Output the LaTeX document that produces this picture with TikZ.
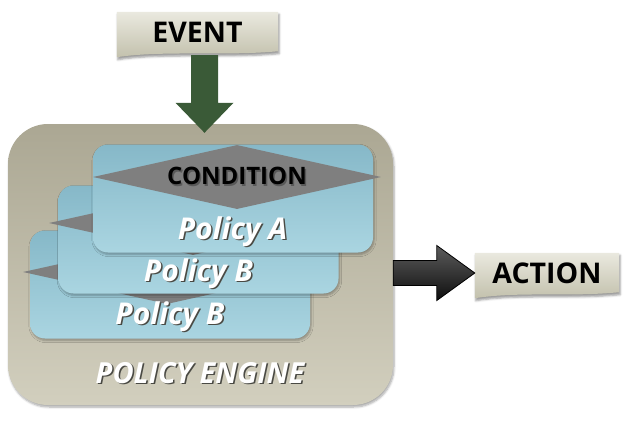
\documentclass[tikz,border=0pt]{standalone}
\usepackage{fontspec}
\setmainfont{Open Sans}
\usetikzlibrary{shapes.geometric,shadows.blur,calc,backgrounds}
\definecolor{enginetop}{HTML}{ABA793}
\definecolor{enginebot}{HTML}{D2CFBE}
\definecolor{cardtop}{HTML}{86B8C8}
\definecolor{cardbot}{HTML}{AAD5E1}
\definecolor{condgray}{HTML}{7F7F7F}
\definecolor{bantop}{HTML}{EAE9DF}
\definecolor{banbot}{HTML}{C3C1AD}
\definecolor{evgreen}{HTML}{3A5A37}
\definecolor{acttop}{HTML}{5C5C5C}
\definecolor{actbot}{HTML}{0E0E0E}
\definecolor{txtshadow}{HTML}{4A4A44}
\newcommand{\shtxt}[2][txtshadow]{\makebox[0pt][l]{\kern1.5pt\raisebox{-1.5pt}{\color{#1}#2}}#2}
\tikzset{
  engine/.style={rounded corners=40pt, top color=enginetop, bottom color=enginebot,
    minimum width=385pt, minimum height=281pt,
    blur shadow={shadow xshift=1pt, shadow yshift=-2pt, shadow opacity=35, shadow blur steps=6}},
  card/.style={rounded corners=15pt, top color=cardtop, bottom color=cardbot,
    minimum width=280pt, minimum height=108pt,
    blur shadow={shadow xshift=1pt, shadow yshift=-2pt, shadow opacity=30, shadow blur steps=5}},
  cond/.style={diamond, aspect=4.5, fill=condgray, minimum width=288pt, minimum height=64pt, inner sep=0pt,
    font=\bfseries\fontsize{24}{24}\selectfont},
  policy/.style={anchor=base, text=white, inner sep=0pt, font=\bfseries\itshape\fontsize{30}{30}\selectfont},
  banner/.style={minimum height=40pt, inner sep=0pt, font=\bfseries\fontsize{28.5}{28.5}\selectfont},
  bannerfill/.style={top color=bantop, bottom color=banbot,
    blur shadow={shadow xshift=1pt, shadow yshift=-2.5pt, shadow opacity=40, shadow blur steps=4}},
}
\begin{document}
\begin{tikzpicture}[x=1pt,y=-1pt]
  \useasboundingbox (0,0) rectangle (626,423);
  % Engine
  \node[engine] (engine) at (200.5,264.5) {};
  \node[policy,font=\bfseries\itshape\fontsize{29}{29}\selectfont] (enginelabel) at (200,383) {\shtxt{POLICY ENGINE}};
  % Policy cards, back to front
  \node[card] (cardC) at (170,284.5) {};
  \node[cond] (condC) at (167,272) {};
  \node[policy] (polC) at (170,324) {\shtxt{Policy B}};
  \node[card] (cardB) at (198.5,239.5) {};
  \node[cond] (condB) at (193,223) {};
  \node[policy] (polB) at (198.5,281) {\shtxt{Policy B}};
  \node[card] (cardA) at (233,198.5) {};
  \node[cond] (condA) at (237,177) {\shtxt[condgray!70!black]{CONDITION}};
  \node[policy] (polA) at (232.5,239) {\shtxt{Policy A}};
  % Banners
  \node[banner,minimum width=161pt] (event) at (197.5,32) {EVENT};
  \node[banner,minimum width=144pt] (action) at (547,273) {ACTION};
  \begin{scope}[on background layer]
    \foreach \b in {event,action} {
      \shade[bannerfill] (\b.north west) -- (\b.north east) -- ([yshift=1pt]\b.south east)
        .. controls ([xshift=-50pt,yshift=-4pt]\b.south east) and ([xshift=45pt,yshift=2pt]\b.south west)
        .. ([yshift=-5pt]\b.south west) -- cycle;
    }
  \end{scope}
  % Event arrow
  \coordinate (evtail) at ($(event.south)+(7,3)$);
  \coordinate (evtip) at ($(event.south |- engine.north)+(7,9)$);
  \fill[evgreen] ($(evtail)+(-13.5,0)$) -- ($(evtip)+(-13.5,-30)$) -- ($(evtip)+(-29,-30)$) -- (evtip)
    -- ($(evtip)+(29,-30)$) -- ($(evtip)+(13.5,-30)$) -- ($(evtail)+(13.5,0)$) -- cycle;
  % Action arrow
  \coordinate (actip) at (action.west);
  \coordinate (actail) at (engine.east |- actip);
  \shade[top color=acttop, bottom color=actbot, draw=black, line width=0.8pt]
    ($(actail)+(0,-12.5)$) -- ($(actip)+(-38,-12.5)$) -- ($(actip)+(-38,-27.5)$) -- (actip)
    -- ($(actip)+(-38,27.5)$) -- ($(actip)+(-38,12.5)$) -- ($(actail)+(0,12.5)$) -- cycle;
\end{tikzpicture}
\end{document}
